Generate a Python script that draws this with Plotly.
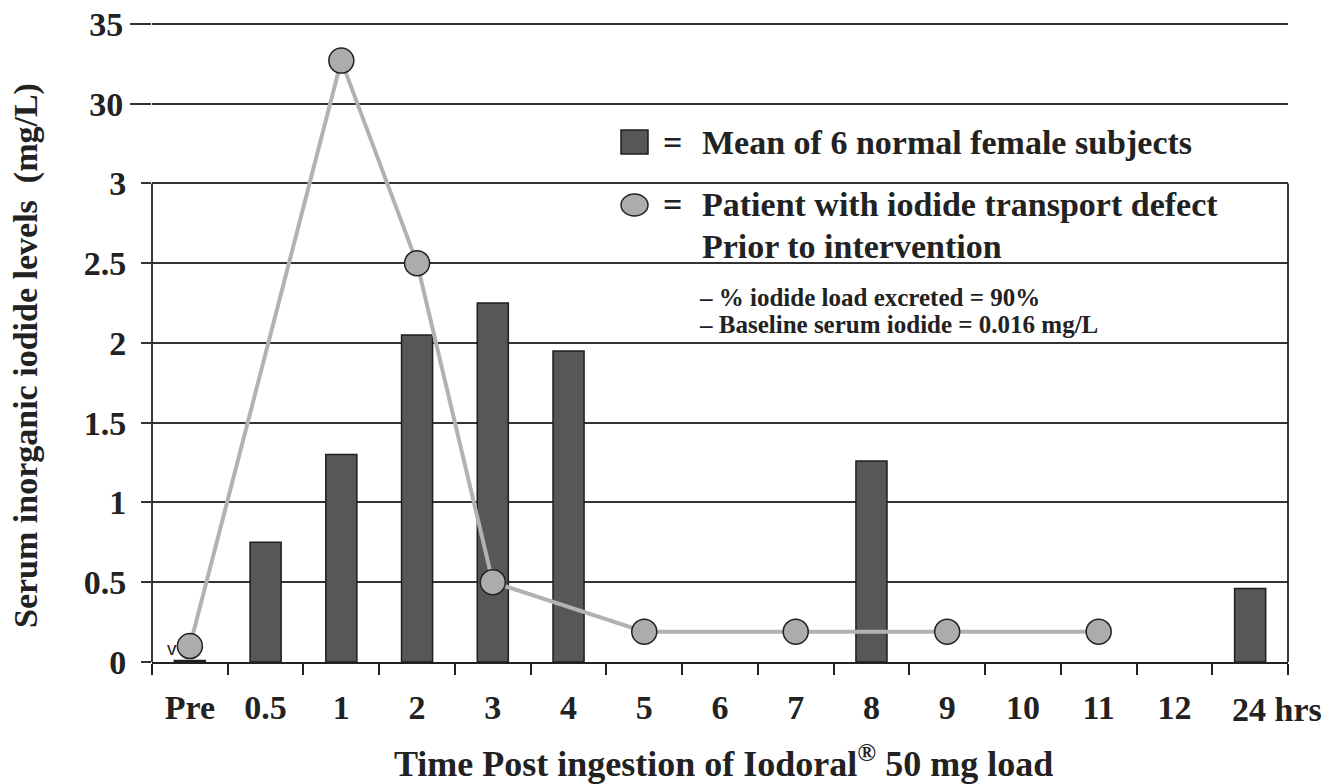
import plotly.graph_objects as go

# ---- data ----
categories = ['Pre', '0.5', '1', '2', '3', '4', '5', '6', '7', '8', '9', '10', '11', '12', '24']
tick_labels = ['Pre', '0.5', '1', '2', '3', '4', '5', '6', '7', '8', '9', '10', '11', '12', '']
last_tick_label = '24 hrs'

normal_x = ['Pre', '0.5', '1', '2', '3', '4', '8', '24']
normal_mean = [0.01, 0.75, 1.30, 2.05, 2.25, 1.95, 1.26, 0.46]

patient_x = ['Pre', '1', '2', '3', '5', '7', '9', '11']
patient_vals = [0.10, 32.7, 2.5, 0.5, 0.19, 0.19, 0.19, 0.19]

y_low_ticks = [0, 0.5, 1, 1.5, 2, 2.5, 3]
y_high_ticks = [30, 35]


# broken axis: 0-3 linear, then 30-35 compressed into one 0.5-unit band per 5
def broken(v):
    return v if v <= 3 else 3.5 + (v - 30) / 10.0


FONT = 'Liberation Serif, Times New Roman, serif'
DARK = '#222222'
YTOP = 4.012

# body margin is removed by the post script, so the figure sits at the page origin
OFF = 0
PLOT_L, PLOT_R, PLOT_T, PLOT_B = 152, 1288, 22, 662   # page pixels
W, H = 1341, 784

fig = go.Figure()

fig.add_trace(go.Bar(
    x=normal_x, y=[broken(v) for v in normal_mean],
    marker=dict(color='#575757', line=dict(color='#1e1e1e', width=1.5)),
    width=0.41, showlegend=False, hoverinfo='skip'))

fig.add_trace(go.Scatter(
    x=patient_x, y=[broken(v) for v in patient_vals], mode='lines+markers',
    line=dict(color='#b2b2b2', width=4),
    marker=dict(size=25, color='#acacac', line=dict(color='#222222', width=1.5)),
    showlegend=False, hoverinfo='skip'))

# invisible trace to activate the second (upper) y axis
fig.add_trace(go.Scatter(x=['Pre'], y=[None], yaxis='y2', mode='markers',
                         showlegend=False, hoverinfo='skip'))

fig.update_layout(
    width=W, height=H,
    margin=dict(l=PLOT_L - OFF, r=W - (PLOT_R - OFF), t=PLOT_T - OFF, b=H - (PLOT_B - OFF)),
    paper_bgcolor='white', plot_bgcolor='white',
    font=dict(family=FONT, color=DARK),
    xaxis=dict(type='category', categoryorder='array', categoryarray=categories,
               tickvals=categories, ticktext=tick_labels, tickangle=0, automargin=False,
               tickson='boundaries', ticks='outside', ticklen=11, tickwidth=1.5,
               tickcolor=DARK, showline=True, linecolor=DARK, linewidth=2,
               showgrid=False, tickfont=dict(size=34, family=FONT, weight='bold'),
               ticklabelstandoff=14, range=[-0.5, 14.5], ticklabeloverflow='allow'),
    yaxis=dict(range=[0, YTOP], tickvals=[broken(v) for v in y_low_ticks],
               ticktext=[f'{v:g}' for v in y_low_ticks], automargin=False,
               showgrid=True, gridcolor='#333333', gridwidth=1.5,
               ticks='outside', ticklen=10, tickwidth=1.5, tickcolor='#333333',
               showline=False, zeroline=False, ticklabeloverflow='allow',
               tickfont=dict(size=34, family=FONT, weight='bold'),
               ticklabelstandoff=8),
    yaxis2=dict(range=[0, YTOP], overlaying='y', side='left', automargin=False,
                tickvals=[broken(v) for v in y_high_ticks],
                ticktext=[f'{v:g}' for v in y_high_ticks],
                showgrid=True, gridcolor='#333333', gridwidth=1.5,
                ticks='outside', ticklen=21, tickwidth=1.5, tickcolor='#333333',
                showline=False, zeroline=False, ticklabeloverflow='allow',
                tickfont=dict(size=34, family=FONT, weight='bold'),
                ticklabelstandoff=0),
)

# lower panel frame (left and right sides)
for xp in (0, 1):
    fig.add_shape(type='line', xref='paper', yref='y', x0=xp, x1=xp, y0=0, y1=3,
                  line=dict(color=DARK, width=1.8))


def px_x(p):
    return (p - PLOT_L) / (PLOT_R - PLOT_L)


def px_y(p):
    return (PLOT_B - p) / (PLOT_B - PLOT_T)


# legend keys
fig.add_shape(type='rect', xref='paper', yref='paper',
              x0=px_x(621), x1=px_x(648), y0=px_y(154), y1=px_y(130),
              fillcolor='#575757', line=dict(color='#1e1e1e', width=1.5))
fig.add_shape(type='circle', xref='paper', yref='paper',
              x0=px_x(621), x1=px_x(648), y0=px_y(216), y1=px_y(194),
              fillcolor='#acacac', line=dict(color='#222222', width=1.5))

big = dict(size=34, family=FONT, color=DARK, weight='bold')
small = dict(size=25, family=FONT, color=DARK, weight='bold')


def ann(text, x, y, font, xanchor='left', **kw):
    fig.add_annotation(text=text, xref='paper', yref='paper', x=px_x(x), y=px_y(y),
                       xanchor=xanchor, yanchor='middle', showarrow=False,
                       font=font, align='left', **kw)


ann('=', 672, 142, big, xanchor='center')
ann('=', 672, 204, big, xanchor='center')
ann('Mean of 6 normal female subjects', 700, 142, big)
ann('Patient with iodide transport defect', 700, 204, big)
ann('Prior to intervention', 700, 246, big)
ann('– % iodide load excreted = 90%', 697, 297, small)
ann('– Baseline serum iodide = 0.016 mg/L', 697, 324, small)

# last category label ("24" centred on its slot, "hrs" running past the axis end)
ann(last_tick_label, 1230, 709, dict(size=34, family=FONT, color=DARK, weight='bold'))

# below-detection marker at Pre
fig.add_annotation(text='v', x='Pre', y=0, xref='x', yref='y', xshift=-18, yshift=14,
                   showarrow=False, font=dict(size=19, family='Liberation Sans', color=DARK))

# axis titles
ann('Time Post ingestion of Iodoral<sup>®</sup> 50 mg load', 723, 761,
    dict(size=36, family=FONT, color=DARK, weight='bold'), xanchor='center')
fig.add_annotation(text='Serum inorganic iodide levels  (mg/L)', xref='paper', yref='paper',
                   x=px_x(26), y=px_y(356), xanchor='center', yanchor='middle',
                   textangle=-90, showarrow=False,
                   font=dict(size=34, family=FONT, color=DARK, weight='bold'))

fig.write_html('out.html', config={'displayModeBar': False},
               post_script="document.body.style.margin='0px';"
                           "document.body.style.overflow='hidden';")
